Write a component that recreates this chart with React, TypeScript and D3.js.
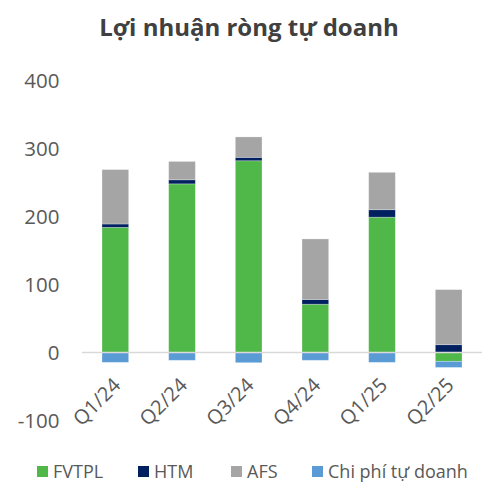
import React from "react";
import * as d3 from "d3";

const categories = ["Q1/24", "Q2/24", "Q3/24", "Q4/24", "Q1/25", "Q2/25"];
const fvtpl = [184, 248, 282, 71, 199, -13];
const htm = [5, 6, 5, 7, 11, 11.5];
const afs = [80, 27, 30, 89, 55, 81];
const chiPhi = [-14.5, -11.5, -15, -11.5, -14.5, -9];
const yTicks = [-100, 0, 100, 200, 300, 400];
const seriesNames = ["FVTPL", "HTM", "AFS", "Chi phí tự doanh"];
const seriesColors = ["#50B848", "#002060", "#A5A5A5", "#5B9BD5"];

export default function App() {
  const W = 496, H = 500;
  const x = d3.scaleBand().domain(categories).range([82, 482]).paddingInner(0.6).paddingOuter(0.3);
  const y = d3.scaleLinear().domain([-100, 400]).range([420.5, 80.5]);
  const rows = categories.map((c, i) => ({
    cat: c, FVTPL: fvtpl[i], HTM: htm[i], AFS: afs[i], "Chi phí tự doanh": chiPhi[i],
  }));
  const stack = d3.stack<any>().keys(seriesNames).offset(d3.stackOffsetDiverging);
  const series = stack(rows);
  const font = "'Open Sans', 'Noto Sans', sans-serif";
  const legendX = [37, 138, 231, 312];
  return (
    <svg width={W} height={H} style={{ position: "absolute", left: 0, top: 0 }} fontFamily={font}>
      <rect width={W} height={H} fill="#fff" />
      <text x={249} y={36} textAnchor="middle" fontSize={24} fontWeight={700} fill="#404040">
        Lợi nhuận ròng tự doanh
      </text>
      {yTicks.map((t) => (
        <text key={t} x={59.5} y={y(t)} dy="0.35em" textAnchor="end" fontSize={20.5} fill="#595959">
          {t}
        </text>
      ))}
      {series.map((s, si) => (
        <g key={s.key} fill={seriesColors[si]}>
          {s.map((d, i) => {
            const y0 = y(d[1]), y1 = y(d[0]);
            return (
              <rect key={i} x={x(categories[i])!} y={Math.min(y0, y1)} width={x.bandwidth()}
                height={Math.abs(y1 - y0)} stroke="#ffffff" strokeOpacity={0.35} strokeWidth={0.8} />
            );
          })}
        </g>
      ))}
      <line x1={82} x2={482} y1={y(0)} y2={y(0)} stroke="#D9D9D9" strokeWidth={1.5} />
      {categories.map((c) => {
        const cx = x(c)! + x.bandwidth() / 2 + 6.5;
        const cy = y(0) + 34;
        return (
          <text key={c} transform={`translate(${cx},${cy}) rotate(-45)`} textAnchor="end"
            fontSize={20} fill="#595959">
            {c}
          </text>
        );
      })}
      {seriesNames.map((n, i) => (
        <g key={n} transform={`translate(${legendX[i]},472)`}>
          <rect x={0} y={-6} width={11} height={11} fill={seriesColors[i]} />
          <text x={16} y={0} dy="0.35em" fontSize={18} fill="#595959">{n}</text>
        </g>
      ))}
    </svg>
  );
}
